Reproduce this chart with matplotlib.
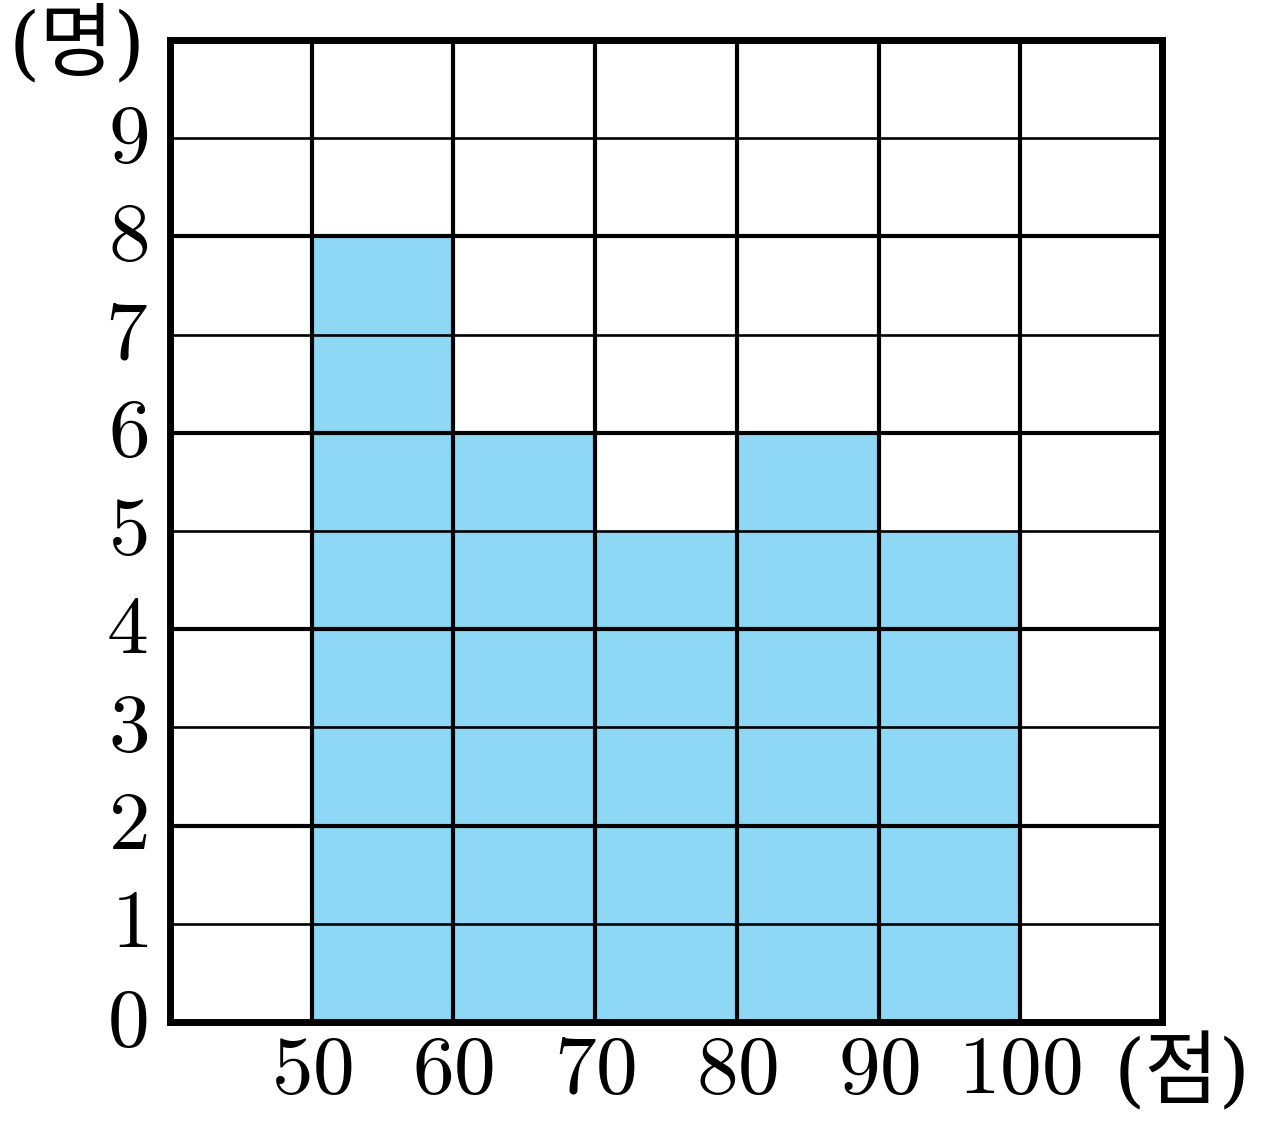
import matplotlib
matplotlib.use("Agg")
import matplotlib.pyplot as plt
import numpy as np

plt.rcParams['mathtext.fontset'] = 'cm'

# histogram data: score classes (lower edge) and number of students
class_starts = [50, 60, 70, 80, 90]
counts = [8, 6, 5, 6, 5]
class_width = 10
x_ticks = [50, 60, 70, 80, 90, 100]
y_ticks = [0, 1, 2, 3, 4, 5, 6, 7, 8, 9]
x_unit = '(점)'
y_unit = '(명)'

fig = plt.figure(figsize=(12.62, 11.31), dpi=100)
ax = fig.add_axes([170 / 1262, 109 / 1131, 992 / 1262, 982 / 1131])

ax.bar(class_starts, counts, width=class_width, align='edge',
       color='#8ED8F5', edgecolor='none', zorder=1)

ax.set_xlim(40, 110)
ax.set_ylim(0, 10)

# grid: every 2 people a heavier line
for y in range(1, 10):
    ax.axhline(y, color='black', lw=3.0 if y % 2 == 0 else 1.9, zorder=2)
for x in range(50, 110, 10):
    ax.axvline(x, color='black', lw=3.0, zorder=2)

for s in ax.spines.values():
    s.set_linewidth(5)
    s.set_zorder(3)

ax.set_xticks(x_ticks)
ax.set_xticklabels([f'${v}$' for v in x_ticks], fontsize=60)
ax.set_yticks(y_ticks)
ax.set_yticklabels([f'${v}$' for v in y_ticks], fontsize=60)
ax.tick_params(length=0)
ax.tick_params(axis='x', pad=5)
ax.tick_params(axis='y', pad=16)
for lbl in ax.get_yticklabels():
    lbl.set_verticalalignment('center')

fam = ['DejaVu Serif', 'Noto Sans CJK KR']
fig.text(1182 / 1262, 1 - 1075 / 1131, x_unit, fontsize=58, family=fam,
         ha='center', va='center')
fig.text(77 / 1262, 1 - 47 / 1131, y_unit, fontsize=58, family=fam,
         ha='center', va='center')

fig.savefig('out.png', dpi=100)
